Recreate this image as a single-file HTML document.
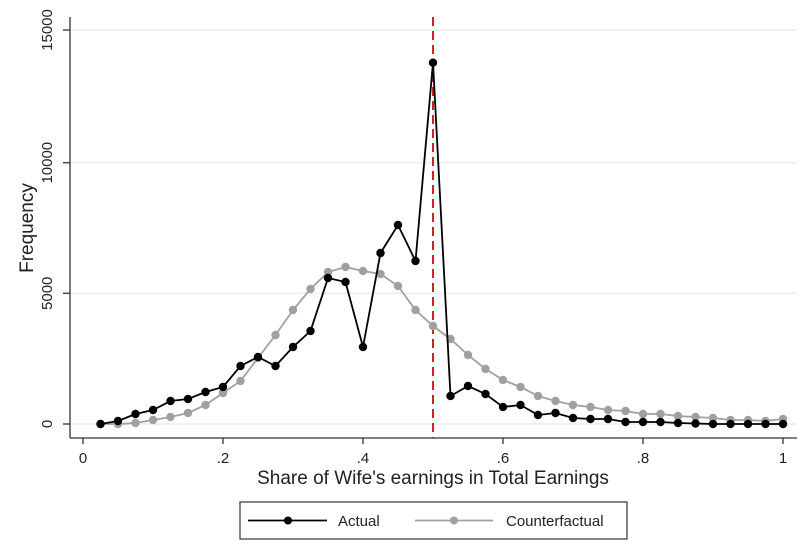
<!DOCTYPE html>
<html><head><meta charset="utf-8"><style>body{margin:0;background:#fff}svg{display:block}</style></head><body>
<svg id="s" width="810" height="553" xmlns="http://www.w3.org/2000/svg" font-family="Liberation Sans, Arial, sans-serif">
<rect width="810" height="553" fill="#fff"/>
<g stroke="#ececec" stroke-width="1.5">
<line x1="71" x2="797" y1="30" y2="30"/><line x1="71" x2="797" y1="162.7" y2="162.7"/><line x1="71" x2="797" y1="293.3" y2="293.3"/><line x1="71" x2="797" y1="424" y2="424"/>
</g>
<g stroke="#333" stroke-width="1.3">
<line x1="70" y1="17" x2="70" y2="438"/><line x1="70" y1="438" x2="797" y2="438"/>
<line x1="63" x2="70" y1="30" y2="30"/><line x1="63" x2="70" y1="162.7" y2="162.7"/><line x1="63" x2="70" y1="293.3" y2="293.3"/><line x1="63" x2="70" y1="424" y2="424"/>
<line x1="83" x2="83" y1="438" y2="444"/><line x1="223" x2="223" y1="438" y2="444"/><line x1="363" x2="363" y1="438" y2="444"/><line x1="503" x2="503" y1="438" y2="444"/><line x1="643" x2="643" y1="438" y2="444"/><line x1="783" x2="783" y1="438" y2="444"/>
</g>
<g font-size="15" fill="#222" text-anchor="middle">
<text x="83" y="463">0</text><text x="223" y="463">.2</text><text x="363" y="463">.4</text><text x="503" y="463">.6</text><text x="643" y="463">.8</text><text x="783" y="463">1</text>
<text transform="translate(52,30) rotate(-90)">15000</text>
<text transform="translate(52,162.7) rotate(-90)">10000</text>
<text transform="translate(52,293.3) rotate(-90)">5000</text>
<text transform="translate(52,424) rotate(-90)">0</text>
</g>
<text x="433" y="484" font-size="19" fill="#222" text-anchor="middle">Share of Wife's earnings in Total Earnings</text>
<text transform="translate(33,228) rotate(-90)" font-size="19" fill="#222" text-anchor="middle">Frequency</text>
<line x1="433" y1="17" x2="433" y2="438" stroke="#d62020" stroke-width="2" stroke-dasharray="9,5"/>
<g id="plot"></g>
<rect x="240" y="502" width="387" height="37" fill="#fff" stroke="#333" stroke-width="1.2"/>
<line x1="248" x2="327" y1="520.5" y2="520.5" stroke="#000" stroke-width="1.8"/><circle cx="288" cy="520.5" r="4" fill="#000"/>
<text x="338" y="526" font-size="15" fill="#222">Actual</text>
<line x1="415" x2="493" y1="520.5" y2="520.5" stroke="#a0a0a0" stroke-width="1.8"/><circle cx="454" cy="520.5" r="4" fill="#a0a0a0"/>
<text x="506" y="526" font-size="15" fill="#222">Counterfactual</text>
</svg>
<script>
var A=[424,421,414,410,401,399,392,387,366,357,366,347,331,278,282,347,253,225,261,62.7,396,386,394,407,405,415,413,418,419,419,422,422,422,423,423.5,424,424,424,424,424];
var C=[424,424,423,420,417,413,405,393,381,358,335,310,289,272,267,271,274,286,310,326,339,355,369,380,387,396,401,405,407,410,411,414,414,416,417,418,420,420,421,419];
var g=document.getElementById('plot'),ns="http://www.w3.org/2000/svg";
function draw(Y,col){var p=Y.map(function(y,i){return (83+700*0.025*(i+1)).toFixed(1)+","+y}).join(" ");
var l=document.createElementNS(ns,"polyline");l.setAttribute("points",p);l.setAttribute("fill","none");l.setAttribute("stroke",col);l.setAttribute("stroke-width","1.8");g.appendChild(l);
Y.forEach(function(y,i){var c=document.createElementNS(ns,"circle");c.setAttribute("cx",83+700*0.025*(i+1));c.setAttribute("cy",y);c.setAttribute("r","4.2");c.setAttribute("fill",col);g.appendChild(c);});}
draw(C,"#a0a0a0");draw(A,"#000");
</script>
</body></html>
